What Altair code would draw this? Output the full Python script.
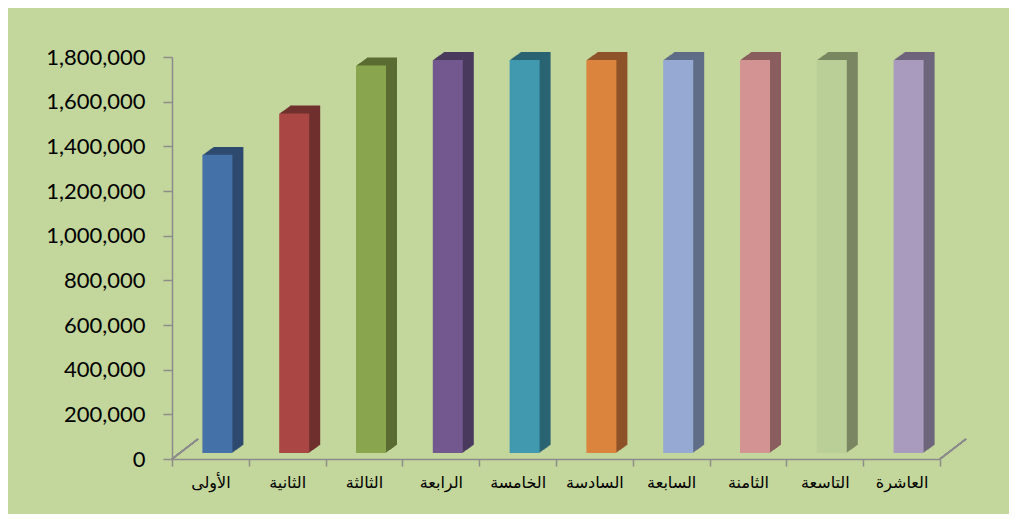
import altair as alt
import pandas as pd

categories = ["الأولى", "الثانية", "الثالثة", "الرابعة", "الخامسة",
              "السادسة", "السابعة", "الثامنة", "التاسعة", "العاشرة"]
values = [1335000, 1520000, 1735000, 1760000, 1760000,
          1760000, 1760000, 1760000, 1760000, 1760000]
front_colors = ["#4571A9", "#AA4644", "#89A54E", "#72588F", "#4199B0",
                "#DB843D", "#95A9D2", "#D39393", "#BACF97", "#A99BBE"]
side_colors = ["#2E4A6E", "#70302E", "#5B6C33", "#4A3A5E", "#2A6373",
               "#8E5328", "#5F6D88", "#8A5E5E", "#798761", "#6E657D"]
y_ticks = [0, 200000, 400000, 600000, 800000, 1000000,
           1200000, 1400000, 1600000, 1800000]

df = pd.DataFrame({"cat": categories, "value": values,
                   "front": front_colors, "side": side_colors})

W, H = 768, 402
BAR_W = 30
FX, FY = 7, -6      # front face offset (3D set-back)
DEPTH = 11          # depth in px
SLOPE = 0.72

xscale = alt.Scale(domain=categories, paddingInner=0, paddingOuter=0)
yscale = alt.Scale(domain=[0, 1800000], nice=False)

x_enc = alt.X("cat:N", scale=xscale, sort=categories, title=None,
              axis=alt.Axis(tickBand="extent", tickSize=7, tickColor="#8C8C8C",
                            tickWidth=1.5, domainColor="#8C8C8C", domainWidth=1.5,
                            labelAngle=0, labelFont="DejaVu Sans", labelFontSize=16,
                            labelColor="#000000", labelPadding=8))
y_enc = alt.Y("value:Q", scale=yscale, title=None,
              axis=alt.Axis(values=y_ticks, format=",d", tickSize=9,
                            tickColor="#8C8C8C", tickWidth=1.5,
                            domainColor="#8C8C8C", domainWidth=1.5,
                            labelFont="Lato", labelFontSize=22,
                            labelColor="#000000", labelPadding=18, grid=False))

base = alt.Chart(df)

layers = []

# floor diagonals
floor_left = base.mark_rule(color="#8C8C8C", strokeWidth=1.5).encode(
    x=alt.value(0), y=alt.value(H), x2=alt.value(26), y2=alt.value(H - 20))
floor_right = base.mark_rule(color="#8C8C8C", strokeWidth=1.5).encode(
    x=alt.value(W), y=alt.value(H), x2=alt.value(W + 26), y2=alt.value(H - 20))
layers += [floor_left, floor_right]

for k in range(DEPTH, 0, -1):
    layers.append(
        base.mark_bar(width=BAR_W, xOffset=FX + k, yOffset=FY - k * SLOPE).encode(
            x=x_enc, y=y_enc, color=alt.Color("side:N", scale=None))
    )

layers.append(
    base.mark_bar(width=BAR_W, xOffset=FX, yOffset=FY).encode(
        x=x_enc, y=y_enc, color=alt.Color("front:N", scale=None))
)

chart = alt.layer(*layers).properties(
    width=W, height=H,
    autosize=alt.AutoSizeParams(type="none"),
    padding={"left": 164, "top": 49, "right": 69, "bottom": 55},
    background="#C3D69B",
).configure_view(stroke=None)

chart.save("out.html", embed_options={"renderer": "svg", "actions": False})
